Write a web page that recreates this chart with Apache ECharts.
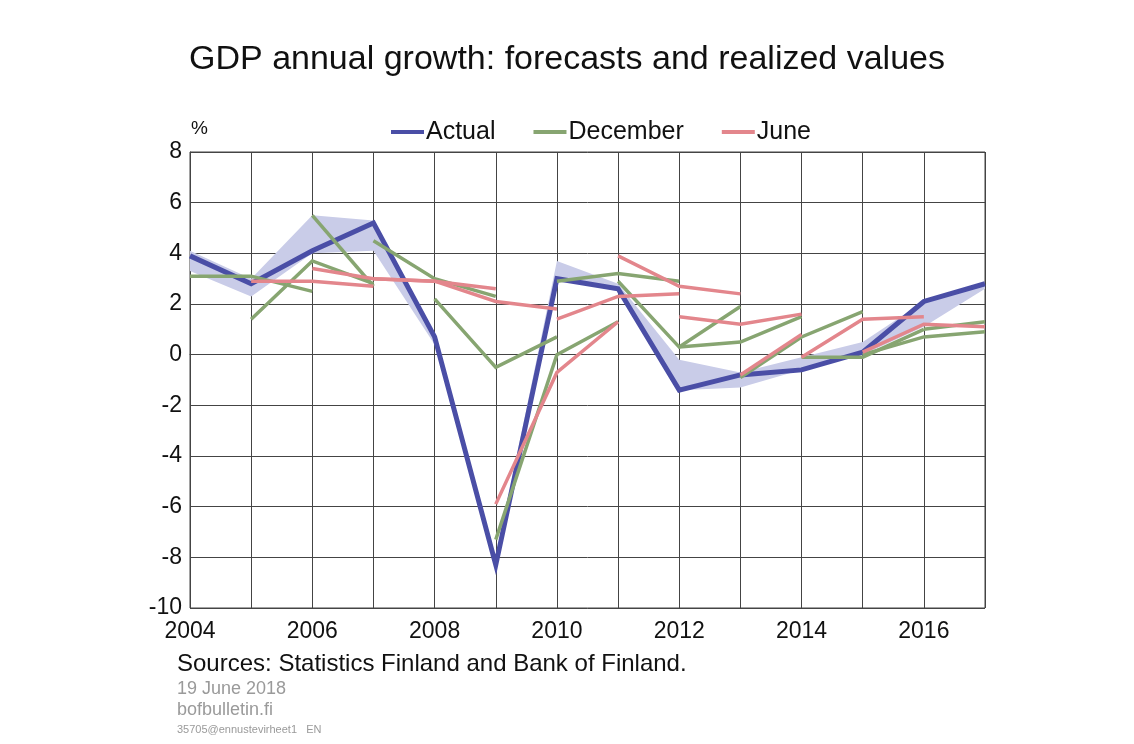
<!DOCTYPE html>
<html>
<head>
<meta charset="utf-8">
<script src="https://cdn.jsdelivr.net/npm/echarts@6/dist/echarts.min.js"></script>
<style>
  html, body { margin: 0; padding: 0; background: #ffffff; }
  #chart { width: 1134px; height: 744px; }
</style>
</head>
<body>
<div id="chart"></div>
<script>
const N = null;
const years = ['2004','2005','2006','2007','2008','2009','2010','2011','2012','2013','2014','2015','2016','2017'];
const yTicks = { min: -10, max: 8, step: 2 };

// Realized GDP growth (%)
const actual   = [3.9, 2.8, 4.1, 5.2, 0.7, -8.3, 3.0, 2.6, -1.4, -0.8, -0.6, 0.1, 2.1, 2.8];
// Range of realized-value vintages (shaded band)
const bandLow  = [3.3, 2.3, 4.0, 4.1, 0.4, -8.3, 3.0, 2.5, -1.4, -1.3, -0.6, 0.0, 1.1, 2.6];
const bandHigh = [4.1, 3.0, 5.5, 5.3, 0.8, -8.0, 3.7, 2.8, -0.2, -0.7, -0.1, 0.5, 2.1, 2.8];

// December forecasts
const december2004 = [3.1, 3.1, 2.5, N, N, N, N, N, N, N, N, N, N, N];
const december2005 = [N, 1.4, 3.7, 2.8, N, N, N, N, N, N, N, N, N, N];
const december2006 = [N, N, 5.5, 2.7, N, N, N, N, N, N, N, N, N, N];
const december2007 = [N, N, N, 4.5, 3.0, 2.3, N, N, N, N, N, N, N, N];
const december2008 = [N, N, N, N, 2.2, -0.5, 0.7, N, N, N, N, N, N, N];
const december2009 = [N, N, N, N, N, -7.3, 0.0, 1.3, N, N, N, N, N, N];
const december2010 = [N, N, N, N, N, N, 2.9, 3.2, 2.9, N, N, N, N, N];
const december2011 = [N, N, N, N, N, N, N, 2.9, 0.3, 1.9, N, N, N, N];
const december2012 = [N, N, N, N, N, N, N, N, 0.3, 0.5, 1.5, N, N, N];
const december2013 = [N, N, N, N, N, N, N, N, N, -0.9, 0.7, 1.7, N, N];
const december2014 = [N, N, N, N, N, N, N, N, N, N, -0.1, -0.1, 1.0, N];
const december2015 = [N, N, N, N, N, N, N, N, N, N, N, 0.0, 0.7, 0.9];
const december2016 = [N, N, N, N, N, N, N, N, N, N, N, N, 1.0, 1.3];

// June forecasts
const june2005 = [N, 2.9, 2.9, 2.7, N, N, N, N, N, N, N, N, N, N];
const june2006 = [N, N, 3.4, 3.0, 2.9, N, N, N, N, N, N, N, N, N];
const june2007 = [N, N, N, 3.0, 2.9, 2.6, N, N, N, N, N, N, N, N];
const june2008 = [N, N, N, N, 2.9, 2.1, 1.8, N, N, N, N, N, N, N];
const june2009 = [N, N, N, N, N, -5.9, -0.7, 1.3, N, N, N, N, N, N];
const june2010 = [N, N, N, N, N, N, 1.4, 2.3, 2.4, N, N, N, N, N];
const june2011 = [N, N, N, N, N, N, N, 3.9, 2.7, 2.4, N, N, N, N];
const june2012 = [N, N, N, N, N, N, N, N, 1.5, 1.2, 1.6, N, N, N];
const june2013 = [N, N, N, N, N, N, N, N, N, -0.8, 0.8, N, N, N];
const june2014 = [N, N, N, N, N, N, N, N, N, N, -0.1, 1.4, 1.5, N];
const june2015 = [N, N, N, N, N, N, N, N, N, N, N, 0.1, 1.2, 1.1];

const decemberSeries = [december2004, december2005, december2006, december2007, december2008, december2009,
  december2010, december2011, december2012, december2013, december2014, december2015, december2016];
const juneSeries = [june2005, june2006, june2007, june2008, june2009, june2010, june2011,
  june2012, june2013, june2014, june2015];

const BLUE = '#4a4ea6';
const GREEN = '#87a571';
const PINK = '#e3868c';
const BAND = '#c9cce8';
const FONT = '"Liberation Sans", Arial, Helvetica, sans-serif';

function lineSeries(name, data, color, width, z) {
  return {
    type: 'line', name: name, data: data, symbol: 'none', showSymbol: false,
    connectNulls: false, silent: true, animation: false, z: z,
    lineStyle: { color: color, width: width, cap: 'butt', join: 'miter' },
    itemStyle: { color: color }
  };
}

const series = [
  {
    type: 'line', name: 'bandBase', data: bandLow, stack: 'band', stackStrategy: 'all',
    symbol: 'none', silent: true, animation: false, z: 1,
    lineStyle: { opacity: 0, width: 0 }
  },
  {
    type: 'line', name: 'bandRange', data: bandHigh.map((h, i) => +(h - bandLow[i]).toFixed(2)),
    stack: 'band', stackStrategy: 'all',
    symbol: 'none', silent: true, animation: false, z: 1,
    lineStyle: { opacity: 0, width: 0 },
    areaStyle: { color: BAND, opacity: 1 }
  },
  lineSeries('Actual', actual, BLUE, 5, 3)
];
decemberSeries.forEach(d => series.push(lineSeries('December', d, GREEN, 3.5, 4)));
juneSeries.forEach(d => series.push(lineSeries('June', d, PINK, 3.5, 5)));

const chart = echarts.init(document.getElementById('chart'), null, { renderer: 'canvas' });
chart.setOption({
  backgroundColor: '#ffffff',
  animation: false,
  textStyle: { fontFamily: FONT },
  title: {
    text: 'GDP annual growth: forecasts and realized values',
    left: 'center', top: 38,
    textStyle: { fontFamily: FONT, fontSize: 34, fontWeight: 'normal', color: '#111' }
  },
  legend: {
    data: ['Actual', 'December', 'June'],
    left: 386, top: 113,
    icon: 'rect', itemWidth: 33, itemHeight: 4, itemGap: 38,
    textStyle: { fontFamily: FONT, fontSize: 25, color: '#111', lineHeight: 28, padding: [0, 0, 0, -3] },
    selectedMode: false
  },
  grid: {
    left: 190, right: 149, top: 152, bottom: 136,
    show: true, borderColor: '#444', borderWidth: 1, backgroundColor: 'transparent'
  },
  xAxis: {
    type: 'category', data: years, boundaryGap: false,
    axisLine: { show: true, lineStyle: { color: '#444', width: 1 } },
    axisTick: { show: false },
    axisLabel: { interval: 1, fontFamily: FONT, fontSize: 23, color: '#111', margin: 12 },
    splitLine: { show: true, interval: 0, lineStyle: { color: '#444', width: 1 } }
  },
  yAxis: {
    type: 'value', min: yTicks.min, max: yTicks.max, interval: yTicks.step,
    axisLine: { show: true, lineStyle: { color: '#444', width: 1 } },
    axisTick: { show: false },
    axisLabel: { fontFamily: FONT, fontSize: 23, color: '#111', margin: 8 },
    splitLine: { show: true, lineStyle: { color: '#444', width: 1 } }
  },
  graphic: [
    { type: 'text', left: 191, top: 119, silent: true,
      style: { text: '%', fontFamily: FONT, fontSize: 19, fill: '#111' } },
    { type: 'text', left: 177, top: 652, silent: true,
      style: { text: 'Sources: Statistics Finland and Bank of Finland.', fontFamily: FONT, fontSize: 24, fill: '#111' } },
    { type: 'text', left: 177, top: 680, silent: true,
      style: { text: '19 June 2018', fontFamily: FONT, fontSize: 18, fill: '#9a9a9a' } },
    { type: 'text', left: 177, top: 701, silent: true,
      style: { text: 'bofbulletin.fi', fontFamily: FONT, fontSize: 18, fill: '#9a9a9a' } },
    { type: 'text', left: 177, top: 724, silent: true,
      style: { text: '35705@ennustevirheet1   EN', fontFamily: FONT, fontSize: 11, fill: '#9a9a9a' } }
  ],
  series: series
});
</script>
</body>
</html>
